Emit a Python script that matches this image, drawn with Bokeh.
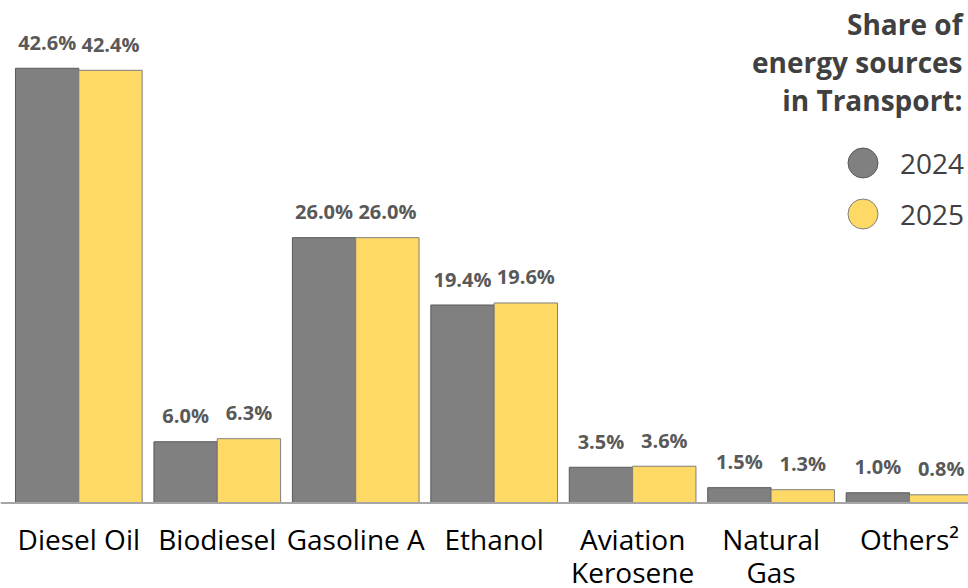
from bokeh.plotting import figure
from bokeh.models import ColumnDataSource, Range1d, Span, Label, Legend, LegendItem
from bokeh.core.properties import value
from bokeh.embed import file_html
from bokeh.resources import INLINE

# ---- data ----
categories = ["Diesel Oil", "Biodiesel", "Gasoline A", "Ethanol",
              "Aviation\nKerosene", "Natural\nGas", "Others\u00b2"]
share_2024 = [42.6, 6.0, 26.0, 19.4, 3.5, 1.5, 1.0]
share_2025 = [42.4, 6.3, 26.0, 19.6, 3.6, 1.3, 0.8]
years = ["2024", "2025"]
title_lines = ["Share of", "energy sources", "in Transport:"]

# ---- style ----
FONT = "Open Sans"
GRAY = "#808080"
YELLOW = "#FFD966"
EDGE = "#595959"
EDGE_Y = "#7F7F7F"
TXT = "#404040"

n = len(categories)
centers = [i + 0.5 for i in range(n)]
BW = 0.4575
x24 = [c - BW / 2 for c in centers]
x25 = [c + BW / 2 for c in centers]

src = ColumnDataSource(dict(
    cat=categories, xc=centers, x24=x24, x25=x25,
    v24=share_2024, v25=share_2025,
    l24=[f"{v:.1f}%" for v in share_2024],
    l25=[f"{v:.1f}%" for v in share_2025],
    zero=[0] * n,
))

W, H = 968, 588
p = figure(width=W, height=H, output_backend="svg", toolbar_location=None,
           x_range=Range1d(-0.0657, 6.926), y_range=Range1d(-8.38, 49.24),
           x_axis_location=None, y_axis_location=None, min_border=0)
p.grid.visible = False
p.outline_line_color = None
p.background_fill_color = "white"
p.border_fill_color = "white"

p.vbar(x="x24", top="v24", bottom=0, width=BW, source=src,
       fill_color=GRAY, line_color=EDGE, line_width=1)
p.vbar(x="x25", top="v25", bottom=0, width=BW, source=src,
       fill_color=YELLOW, line_color=EDGE_Y, line_width=1)

p.add_layout(Span(location=0, dimension="width", line_color="#A6A6A6", line_width=2))

for xs, ys, ls in (("x24", "v24", "l24"), ("x25", "v25", "l25")):
    p.text(x=xs, y=ys, text=ls, source=src, text_align="center",
           text_baseline="alphabetic", y_offset=-26,
           text_font=value(FONT), text_font_style="bold",
           text_font_size="20px", text_color="#595959")

p.text(x="xc", y="zero", text="cat", source=src, text_align="center",
       text_baseline="top", y_offset=17, text_font=value(FONT),
       text_font_size="28px", text_color="#000000", text_line_height=0.88)

# legend keys (size 0 on the plot; the legend draws its own swatch)
r24 = p.scatter(x="x24", y="v24", source=src, marker="circle", size=0,
                fill_color=GRAY, line_color=EDGE)
r25 = p.scatter(x="x25", y="v25", source=src, marker="circle", size=0,
                fill_color=YELLOW, line_color=EDGE_Y)

def make_legend(label, rend, loc):
    return Legend(items=[LegendItem(label=label, renderers=[rend], index=0)],
                  location=loc, orientation="vertical",
                  glyph_width=75, glyph_height=75, spacing=0, label_standoff=0,
                  padding=0, margin=0, border_line_color=None,
                  background_fill_alpha=0,
                  label_text_font=FONT, label_text_font_size="28px",
                  label_text_color=TXT)

p.add_layout(make_legend(years[0], r24, (825, 388)))
p.add_layout(make_legend(years[1], r25, (825, 337)))

p.add_layout(Label(x=962, y=584, x_units="screen", y_units="screen",
                   text="\n".join(title_lines), text_align="right",
                   text_baseline="top", text_font=FONT, text_font_style="bold",
                   text_font_size="28px", text_color=TXT, text_line_height=1.01))

open("out.html", "w").write(file_html(p, INLINE))
